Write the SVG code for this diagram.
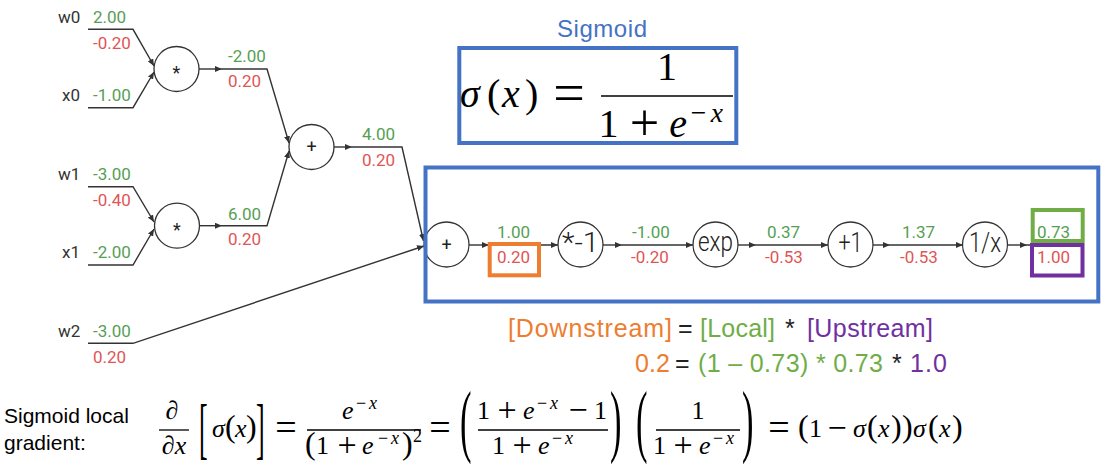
<svg xmlns="http://www.w3.org/2000/svg" width="1106" height="474" viewBox="0 0 1106 474">
<defs>
<style>
.lbl{font-family:Roboto,"Liberation Sans",sans-serif;font-size:17px;fill:#333}
.g{font-family:Roboto,"Liberation Sans",sans-serif;font-size:17px;fill:#55a055}
.r{font-family:Roboto,"Liberation Sans",sans-serif;font-size:17px;fill:#e05555}
.node circle{fill:#fff;stroke:#333;stroke-width:1.3}
.nt{font-family:Roboto,"Liberation Sans",sans-serif;font-size:18px;fill:#222;text-anchor:middle}
.nb{font-family:Roboto,"Liberation Sans",sans-serif;font-weight:300;font-size:27px;fill:#222;text-anchor:middle}
.edge{fill:none;stroke:#333;stroke-width:1.4}
.m{font-family:"Liberation Serif",serif;fill:#000}
.i{font-style:italic}
.bar{stroke:#000;stroke-width:1.3}
.box{fill:none;stroke-width:4}
.cal{font-family:"Liberation Sans",Arial,sans-serif}
</style>
<marker id="ah" viewBox="0 0 7 6" refX="7" refY="3" markerWidth="7" markerHeight="6" markerUnits="userSpaceOnUse" orient="auto"><path d="M0,0 L7,3 L0,6 z" fill="#333"/></marker>
<g id="ope" font-size="26">
<text class="m" x="-3" y="0">1</text>
<text class="m" x="27" y="2" font-size="34" text-anchor="middle">+</text>
<text class="m i" x="43" y="0">e</text>
<text class="m" x="57" y="-10" font-size="18">−</text>
<text class="m i" x="70" y="-10" font-size="18">x</text>
</g>
</defs>
<rect width="1106" height="474" fill="#fff"/>

<g id="connectors" class="edge">
<path d="M88,29.3 H133 L154,66" marker-end="url(#ah)"/>
<path d="M88,107.7 H133 L154,72" marker-end="url(#ah)"/>
<path d="M199,69 H222" marker-end="url(#ah)"/>
<path d="M222,69 H267 L289,143" marker-end="url(#ah)"/>
<path d="M88,186.7 H133 L154,222" marker-end="url(#ah)"/>
<path d="M88,265 H133 L154,229" marker-end="url(#ah)"/>
<path d="M199,225.7 H222" marker-end="url(#ah)"/>
<path d="M222,225.7 H267 L289,151" marker-end="url(#ah)"/>
<path d="M334,147 H352" marker-end="url(#ah)"/>
<path d="M352,147 H402 L423.5,241" marker-end="url(#ah)"/>
<path d="M88,343.3 H133 L424,246" marker-end="url(#ah)"/>
<path d="M469,245 H489" marker-end="url(#ah)"/>
<path d="M489,245 H558" marker-end="url(#ah)"/>
<path d="M603,245 H622" marker-end="url(#ah)"/>
<path d="M622,245 H693" marker-end="url(#ah)"/>
<path d="M738,245 H756" marker-end="url(#ah)"/>
<path d="M756,245 H828" marker-end="url(#ah)"/>
<path d="M873,245 H890" marker-end="url(#ah)"/>
<path d="M890,245 H963" marker-end="url(#ah)"/>
<path d="M1007.5,245 H1027" marker-end="url(#ah)"/>
<path d="M1027,245 H1073"/>
</g>

<g id="inputs">
<text class="lbl" x="58" y="23">w0</text><text class="g" x="93" y="23">2.00</text><text class="r" x="93" y="49">-0.20</text>
<text class="lbl" x="62" y="101">x0</text><text class="g" x="93" y="101">-1.00</text>
<text class="lbl" x="58" y="180">w1</text><text class="g" x="93" y="180">-3.00</text><text class="r" x="93" y="206">-0.40</text>
<text class="lbl" x="62" y="258">x1</text><text class="g" x="93" y="258">-2.00</text>
<text class="lbl" x="58" y="337">w2</text><text class="g" x="93" y="337">-3.00</text><text class="r" x="93" y="363">0.20</text>
</g>

<g id="values">
<text class="g" x="228" y="62">-2.00</text><text class="r" x="228" y="87">0.20</text>
<text class="g" x="228" y="220">6.00</text><text class="r" x="228" y="245">0.20</text>
<text class="g" x="362" y="140">4.00</text><text class="r" x="362" y="166">0.20</text>
<text class="g" x="497" y="238">1.00</text><text class="r" x="497" y="263">0.20</text>
<text class="g" x="632" y="238">-1.00</text><text class="r" x="631" y="263">-0.20</text>
<text class="g" x="767" y="238">0.37</text><text class="r" x="765" y="263">-0.53</text>
<text class="g" x="902" y="238">1.37</text><text class="r" x="900" y="263">-0.53</text>
<text class="g" x="1037" y="238">0.73</text><text class="r" x="1037" y="263">1.00</text>
</g>

<g id="mul0" class="node"><circle cx="176.5" cy="69" r="22.5"/><text class="nt" x="176.5" y="79">*</text></g>
<g id="mul1" class="node"><circle cx="177" cy="225.7" r="22.5"/><text class="nt" x="177" y="236">*</text></g>
<g id="add0" class="node"><circle cx="311.5" cy="147" r="22.5"/><text class="nt" x="311.5" y="153">+</text></g>
<g id="add1" class="node"><circle cx="446.5" cy="244.5" r="22.5"/><text class="nt" x="446.5" y="250.5">+</text></g>
<g id="neg" class="node"><circle cx="580.5" cy="244.5" r="22.5"/><text class="nb" x="580.5" y="252" textLength="37" lengthAdjust="spacingAndGlyphs">*-1</text></g>
<g id="exp" class="node"><circle cx="715.5" cy="244.5" r="22.5"/><text class="nb" x="715.5" y="251" textLength="35" lengthAdjust="spacingAndGlyphs">exp</text></g>
<g id="add2" class="node"><circle cx="850.5" cy="244.5" r="22.5"/><text class="nb" x="850.5" y="252" textLength="24" lengthAdjust="spacingAndGlyphs">+1</text></g>
<g id="inv" class="node"><circle cx="985" cy="244.5" r="22.5"/><text class="nb" x="985" y="252" textLength="32" lengthAdjust="spacingAndGlyphs">1/x</text></g>

<g id="highlights">
<rect class="box" x="425.5" y="167.5" width="672.8" height="134" stroke="#4472C4"/>
<rect class="box" x="489.7" y="244" width="49.3" height="31.3" stroke="#ED7D31"/>
<rect class="box" x="1032.7" y="210" width="50" height="31" stroke="#70AD47"/>
<rect class="box" x="1032" y="245" width="50.5" height="30.5" stroke="#7030A0"/>
</g>

<g id="sigmoid-def">
<text class="cal" x="557" y="37" font-size="24" fill="#4472C4" textLength="90">Sigmoid</text>
<rect class="box" x="459.3" y="48" width="277" height="95" stroke="#4472C4"/>
<text class="m" y="107" font-size="40"><tspan x="460" class="i">σ</tspan><tspan x="487">(</tspan><tspan x="502" class="i">x</tspan><tspan x="525">)</tspan></text>
<text class="m" x="569" y="111.5" font-size="56" text-anchor="middle">=</text>
<line class="bar" x1="601" y1="96" x2="733" y2="96" stroke-width="2"/>
<text class="m" x="667" y="80" font-size="40" text-anchor="middle">1</text>
<use href="#ope" transform="translate(603,137) scale(1.54)"/>
</g>

<g id="rule" class="cal" font-size="25">
<text x="508" y="337" fill="#ED7D31" textLength="164">[Downstream]</text>
<text x="678" y="337" fill="#222">=</text>
<text x="700" y="337" fill="#70AD47" textLength="75">[Local]</text>
<text x="785" y="337" fill="#222">*</text>
<text x="807" y="337" fill="#7030A0" textLength="126">[Upstream]</text>
<text x="635" y="372" fill="#ED7D31" textLength="35">0.2</text>
<text x="675" y="372" fill="#222">=</text>
<text x="698" y="372" fill="#70AD47" textLength="185">(1 – 0.73) * 0.73</text>
<text x="892" y="372" fill="#222">*</text>
<text x="910" y="372" fill="#7030A0" textLength="37">1.0</text>
</g>

<g id="gradient" font-size="26">
<text class="cal" x="4" y="423" font-size="21" fill="#000">Sigmoid local</text>
<text class="cal" x="4" y="450" font-size="21" fill="#000">gradient:</text>
<text class="m i" x="172" y="419" text-anchor="middle">∂</text>
<line class="bar" x1="159" y1="430" x2="189" y2="430"/>
<text class="m i" x="174" y="454" text-anchor="middle">∂x</text>
<text class="m" font-size="26" transform="translate(199,451) scale(1,2.6)">[</text>
<text class="m" y="437"><tspan x="212" class="i">σ</tspan><tspan x="225" font-size="32">(</tspan><tspan x="235" class="i">x</tspan><tspan x="246" font-size="32">)</tspan></text>
<text class="m" font-size="26" transform="translate(256,451) scale(1,2.6)">]</text>
<text class="m" x="286" y="440" font-size="38" text-anchor="middle">=</text>
<text class="m i" x="342" y="419">e</text>
<text class="m" x="356" y="409" font-size="18">−</text>
<text class="m i" x="369" y="409" font-size="18">x</text>
<line class="bar" x1="307" y1="430" x2="421" y2="430"/>
<text class="m" x="305" y="454" font-size="32">(</text>
<text class="m" x="316" y="454">1</text>
<text class="m" x="347" y="456" font-size="34" text-anchor="middle">+</text>
<text class="m i" x="362" y="454">e</text>
<text class="m" x="378" y="444" font-size="18">−</text>
<text class="m i" x="391" y="444" font-size="18">x</text>
<text class="m" x="402" y="454" font-size="32">)</text>
<text class="m" x="413" y="442" font-size="18">2</text>
<text class="m" x="440" y="440" font-size="38" text-anchor="middle">=</text>
<text class="m" font-size="30" transform="translate(460,447) scale(1.15,2.65)">(</text>
<use href="#ope" x="480" y="419"/>
<text class="m" x="578" y="421" font-size="34" text-anchor="middle">−</text>
<text class="m" x="594" y="419">1</text>
<line class="bar" x1="478" y1="430" x2="608" y2="430"/>
<use href="#ope" x="495" y="454"/>
<text class="m" font-size="30" transform="translate(610,447) scale(1.15,2.65)">)</text>
<text class="m" font-size="30" transform="translate(636,447) scale(1.15,2.65)">(</text>
<text class="m" x="698" y="419" text-anchor="middle">1</text>
<line class="bar" x1="656" y1="430" x2="740" y2="430"/>
<use href="#ope" x="656" y="454"/>
<text class="m" font-size="30" transform="translate(742,447) scale(1.15,2.65)">)</text>
<text class="m" x="779" y="440" font-size="38" text-anchor="middle">=</text>
<text class="m" y="437"><tspan x="798" font-size="32">(</tspan><tspan x="809">1</tspan><tspan x="837" y="439" font-size="34" text-anchor="middle">−</tspan><tspan x="853" y="437" class="i">σ</tspan><tspan x="867" font-size="32">(</tspan><tspan x="878" class="i">x</tspan><tspan x="891" font-size="32">)</tspan><tspan x="902" font-size="32">)</tspan><tspan x="913" class="i">σ</tspan><tspan x="928" font-size="32">(</tspan><tspan x="939" class="i">x</tspan><tspan x="952" font-size="32">)</tspan></text>
</g>
</svg>
